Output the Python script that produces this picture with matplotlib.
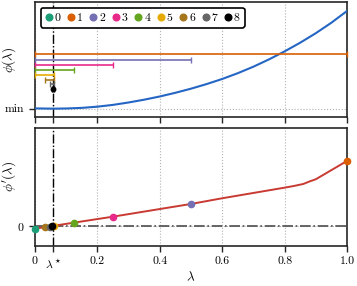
import numpy as np
import matplotlib
matplotlib.use("Agg")
import matplotlib.pyplot as plt

plt.rcParams['font.family'] = 'serif'
plt.rcParams['font.serif'] = ['cmr10']
plt.rcParams['mathtext.fontset'] = 'cm'
plt.rcParams['axes.formatter.use_mathtext'] = True
plt.rcParams['font.size'] = 8.5

# step size found by bisection
lam_star = 0.0586

# phi(lambda), measured above its minimum
lam_phi = [0.0, 0.0586, 0.10, 0.15, 0.20, 0.25, 0.30, 0.35, 0.40, 0.45, 0.50, 0.55,
           0.60, 0.65, 0.70, 0.75, 0.80, 0.85, 0.90, 0.95, 1.00]
phi = [0.3, 0.0, 0.2, 0.8, 2.0, 3.8, 6.2, 9.0, 12.2, 15.9, 20.0, 24.6,
       29.7, 35.5, 42.0, 49.3, 57.3, 66.0, 75.5, 86.0, 97.7]

# phi'(lambda)
lam_dphi = [0.0, 0.0625, 0.125, 0.25, 0.5, 0.6, 0.8, 0.83, 0.86, 0.88, 0.9, 1.0]
dphi = [-2.7, 0.3, 3.3, 9.3, 22.0, 27.7, 38.3, 40.0, 42.0, 44.5, 46.7, 65.0]

# bisection iterates
iters = [0, 1, 2, 3, 4, 5, 6, 7, 8]
lam_k = [0.0, 1.0, 0.5, 0.25, 0.125, 0.0625, 0.03125, 0.046875, 0.0546875]
dphi_k = [-2.7, 65.0, 22.0, 9.3, 3.3, 0.3, -1.3, -0.6, -0.2]
colors = ['#1b9e77', '#d95f02', '#7570b3', '#e7298a', '#66a61e',
          '#e6ab02', '#a6761d', '#666666', '#000000']

# bracket [lo, hi] after each iteration 1..8 and the height of its bar
lo = [0.0, 0.0, 0.0, 0.0, 0.0, 0.03125, 0.046875, 0.0546875]
hi = [1.0, 0.5, 0.25, 0.125, 0.0625, 0.0625, 0.0625, 0.0625]
bar_y = [54.4, 48.7, 44.0, 39.0, 34.0, 29.0, 24.4, 19.4]

fig = plt.figure(figsize=(3.57, 2.86), dpi=100)
ax1 = fig.add_axes([0.098, 0.591, 0.874, 0.402])
ax2 = fig.add_axes([0.098, 0.140, 0.874, 0.4126])

xt = [0, lam_star, 0.2, 0.4, 0.6, 0.8, 1.0]
xtl = ['0', r'$\lambda^\star$', '0.2', '0.4', '0.6', '0.8', '1.0']

for ax in (ax1, ax2):
    ax.set_xlim(0, 1)
    ax.set_xticks(xt)
    ax.grid(True, ls=':', color='0.7', lw=0.8)
    ax.axvline(lam_star, color='k', ls='-.', lw=1.0, zorder=2)
    ax.tick_params(direction='out', length=4, width=1, color='0.15')
    for s in ax.spines.values():
        s.set_linewidth(1.2)
        s.set_color('0.15')

# top panel
ax1.plot(lam_phi, phi, color='#2566c4', lw=1.5, zorder=3)
for k in range(len(lo)):
    c = (lo[k] + hi[k]) / 2
    ax1.errorbar(c, bar_y[k], xerr=(hi[k] - lo[k]) / 2, fmt='none',
                 ecolor=colors[k + 1], elinewidth=1.2, capsize=2, capthick=1,
                 zorder=3, clip_on=False)
ax1.plot((lo[-1] + hi[-1]) / 2, bar_y[-1], 'o', color='k', ms=3.2, zorder=4)
ax1.set_ylim(-8.3, 106.7)
ax1.set_yticks([0])
ax1.set_yticklabels(['min'])
ax1.set_xticklabels([])
ax1.set_ylabel(r'$\phi(\lambda)$', fontsize=9.5)
ax1.yaxis.set_label_coords(-0.055, 0.5)

for i in iters:
    ax1.plot([], [], 'o', color=colors[i], ms=4.8, label=str(i))
ax1.legend(loc='upper left', ncol=9, handlelength=0.5, handletextpad=0.25,
           columnspacing=0.65, borderpad=0.4, framealpha=1, edgecolor='k',
           fancybox=True).get_frame().set_linewidth(1.2)

# bottom panel
ax2.axhline(0, color='0.3', ls='-.', lw=1.2, zorder=2)
ax2.plot(lam_dphi, dphi, color='#c83a32', lw=1.4, zorder=3)
for i in iters:
    ax2.plot(lam_k[i], dphi_k[i], 'o', color=colors[i], ms=4.5, zorder=4,
             clip_on=False)
ax2.set_ylim(-20, 98)
ax2.set_yticks([0])
ax2.set_xticklabels(xtl)
ax2.set_xlabel(r'$\lambda$', fontsize=9.5, labelpad=1)
ax2.set_ylabel(r"$\phi'(\lambda)$", fontsize=9.5)
ax2.yaxis.set_label_coords(-0.055, 0.59)

fig.savefig('out.png', dpi=100)
